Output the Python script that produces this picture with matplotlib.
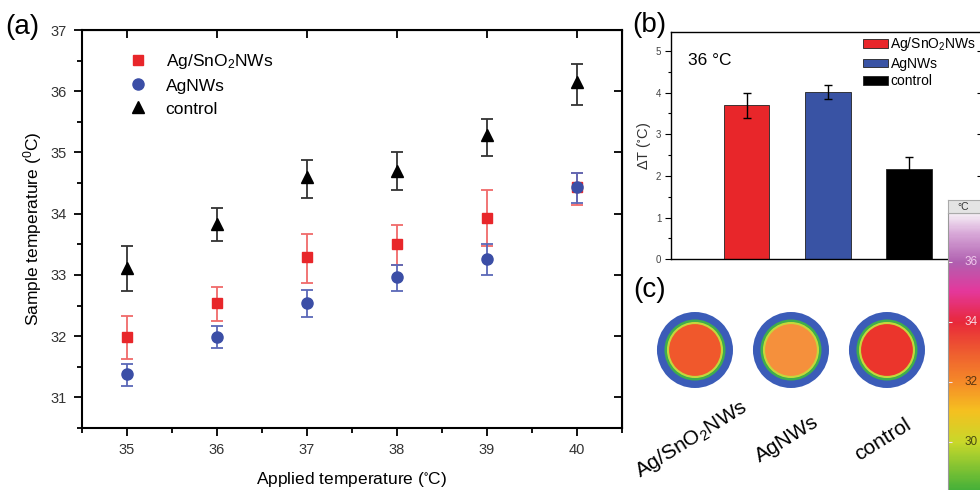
import matplotlib
matplotlib.use('Agg')
import matplotlib.pyplot as plt
import matplotlib.patches as mpatches
from matplotlib.colors import LinearSegmentedColormap, Normalize
from matplotlib.cm import ScalarMappable
from matplotlib.ticker import MultipleLocator, NullLocator

plt.rcParams['font.family'] = ['Liberation Sans', 'DejaVu Sans']
plt.rcParams['mathtext.default'] = 'regular'

# (a) sample temperature vs applied temperature
applied = [35, 36, 37, 38, 39, 40]
sno2_t = [31.98, 32.54, 33.30, 33.50, 33.93, 34.43]
sno2_lo = [31.63, 32.25, 32.87, 33.16, 33.48, 34.15]
sno2_hi = [32.33, 32.81, 33.67, 33.82, 34.38, 34.67]
ag_t = [31.38, 31.98, 32.54, 32.96, 33.26, 34.43]
ag_lo = [31.19, 31.80, 32.31, 32.73, 33.00, 34.18]
ag_hi = [31.54, 32.16, 32.76, 33.16, 33.50, 34.66]
ctrl_t = [33.11, 33.83, 34.60, 34.70, 35.28, 36.15]
ctrl_lo = [32.74, 33.55, 34.26, 34.38, 34.95, 35.77]
ctrl_hi = [33.48, 34.09, 34.87, 35.00, 35.55, 36.44]

# (b) temperature rise at 36 C
samples = ['Ag/SnO$_2$NWs', 'AgNWs', 'control']
delta_t = [3.69, 4.01, 2.17]
delta_err = [0.29, 0.17, 0.28]

# (c) thermal images: centre colour of each sample, colour scale ticks
spot_colors = ['#f0582c', '#f5903c', '#eb352c']
cbar_ticks = [30, 32, 34, 36]
cbar_label_colors = ['#4a4a10', '#5a3410', '#f8d4dc', '#f0c8ec']

red, blue, black = '#e8262a', '#3b4ea6', 'black'

fig = plt.figure(figsize=(9.8, 4.9), dpi=100)

# ---------------- (a) ----------------
ax = fig.add_axes([82 / 980, 62 / 490, 540 / 980, 398 / 490])
series = [
    (sno2_t, sno2_lo, sno2_hi, red, '#f06a6a', 's', 7, samples[0]),
    (ag_t, ag_lo, ag_hi, blue, '#5a68b8', 'o', 8, samples[1]),
    (ctrl_t, ctrl_lo, ctrl_hi, black, '#333333', '^', 8.5, samples[2]),
]
for t, lo, hi, c, ec, m, ms, lab in series:
    err = [[a - b for a, b in zip(t, lo)], [b - a for a, b in zip(t, hi)]]
    ax.errorbar(applied, t, yerr=err, fmt='none', ecolor=ec, elinewidth=1.3,
                capsize=4, capthick=1.3)
    ax.plot(applied, t, m, color=c, ms=ms, ls='none', label=lab)

ax.set_xlim(34.5, 40.5)
ax.set_ylim(30.5, 37)
ax.set_xticks(applied)
ax.set_yticks([31, 32, 33, 34, 35, 36, 37])
ax.xaxis.set_minor_locator(MultipleLocator(0.5))
ax.yaxis.set_minor_locator(MultipleLocator(0.5))
ax.tick_params(which='major', direction='out', length=6, width=1.3,
               labelsize=10.5, labelcolor='#333333', pad=5)
ax.tick_params(which='minor', direction='out', length=3.5, width=1.3)
for s in ax.spines.values():
    s.set_linewidth(1.5)
secx = ax.secondary_xaxis('top')
secx.set_xticks(applied)
secx.tick_params(direction='in', length=6, width=1.3, labeltop=False)
secx.xaxis.set_minor_locator(NullLocator())
secy = ax.secondary_yaxis('right')
secy.set_yticks([31, 32, 33, 34, 35, 36, 37])
secy.tick_params(direction='in', length=6, width=1.3, labelright=False)
secy.yaxis.set_minor_locator(NullLocator())

ax.set_xlabel('Applied temperature ($^{\\circ}$C)', fontsize=12.5, labelpad=9)
ax.set_ylabel('Sample temperature ($^0$C)', fontsize=12.5, labelpad=5)
ax.legend(loc='upper left', bbox_to_anchor=(0.055, 0.985), frameon=False,
          fontsize=12.5, handlelength=1.2, handletextpad=1.0, labelspacing=0.45)

# ---------------- (b) ----------------
axb = fig.add_axes([671 / 980, 230.7 / 490, 312 / 980, 227.6 / 490])
pos = [1, 2, 3]
bars = axb.bar(pos, delta_t, width=0.56, color=[red, '#3953a4', 'black'],
               edgecolor='#222222', linewidth=0.6, yerr=delta_err,
               error_kw=dict(ecolor='black', elinewidth=1, capsize=3, capthick=1))
axb.set_xlim(0.07, 3.91)
axb.set_ylim(0, 5.46)
axb.set_xticks([])
axb.set_yticks([0, 1, 2, 3, 4, 5])
axb.yaxis.set_minor_locator(MultipleLocator(0.5))
axb.tick_params(axis='y', which='major', direction='out', length=4, width=0.8,
                labelsize=7, labelcolor='#444444', pad=3)
axb.tick_params(axis='y', which='minor', direction='out', length=2, width=0.8)
for s in axb.spines.values():
    s.set_linewidth(1.0)
secyb = axb.secondary_yaxis('right')
secyb.set_yticks([1, 2, 3, 4, 5])
secyb.tick_params(direction='in', length=4, width=0.8, labelright=False)
secyb.yaxis.set_minor_locator(NullLocator())
axb.set_ylabel('ΔT ($^{\\circ}$C)', fontsize=10.5, labelpad=2, color='#333333')
axb.text(0.055, 0.875, '36 °C', transform=axb.transAxes, fontsize=12.5,
         va='center', ha='left')
handles = [mpatches.Patch(facecolor=b.get_facecolor(), edgecolor='#222222',
                          linewidth=0.6) for b in bars]
axb.legend(handles, samples, loc='upper left', bbox_to_anchor=(0.59, 1.02),
           frameon=False, fontsize=10, handlelength=1.8, handleheight=0.6,
           handletextpad=0.15, labelspacing=0.25, borderaxespad=0.2)

# ---------------- (c) ----------------
axc = fig.add_axes([620 / 980, 90 / 490, 324 / 980, 100 / 490])
axc.set_xlim(-0.781, 2.594)
axc.set_ylim(-0.521, 0.521)
axc.axis('off')
for i, (name, col) in enumerate(zip(samples, spot_colors)):
    axc.add_patch(mpatches.Circle((i, 0), 0.396, color='#3b5cb8', lw=0))
    axc.add_patch(mpatches.Circle((i, 0), 0.318, color='#3fae4c', lw=0))
    axc.add_patch(mpatches.Circle((i, 0), 0.292, color='#c4d83c', lw=0))
    axc.add_patch(mpatches.Circle((i, 0), 0.27, color=col, lw=0))
    axc.text(i - 0.04, -0.93, name, rotation=32, ha='center', va='center',
             fontsize=15, clip_on=False)

cmap = LinearSegmentedColormap.from_list('thermal', [
    (0.00, '#2aa83c'), (0.20, '#c8d82a'), (0.31, '#f5c020'), (0.41, '#f58a28'),
    (0.52, '#ee5a30'), (0.62, '#e8283a'), (0.73, '#e4389c'), (0.83, '#b060b0'),
    (0.93, '#d8a8d8'), (1.00, '#f6f0f6')])
norm = Normalize(vmin=28.07, vmax=37.63)
cax = fig.add_axes([948 / 980, -10 / 490, 42 / 980, 287 / 490])
cb = fig.colorbar(ScalarMappable(norm=norm, cmap=cmap), cax=cax)
cb.outline.set_edgecolor('#999999')
cax.yaxis.set_ticks_position('left')
cax.set_yticks(cbar_ticks)
cax.tick_params(direction='in', length=3, width=0.8, colors='#f4e4ec',
                labelleft=False, labelright=False)
for v, c in zip(cbar_ticks, cbar_label_colors):
    cax.text(0.4, v, str(v), transform=cax.get_yaxis_transform(), fontsize=8.5,
             color=c, va='center', ha='left')
hax = fig.add_axes([948 / 980, 277 / 490, 42 / 980, 13 / 490])
hax.set_facecolor('#e4e4e4')
hax.set_xticks([])
hax.set_yticks([])
for s in hax.spines.values():
    s.set_edgecolor('#aaaaaa')
hax.text(0.35, 0.45, '°C', fontsize=7.5, va='center', ha='center',
         color='#333333', transform=hax.transAxes)

# panel labels
fig.text(5 / 980, 1 - 27 / 490, '(a)', fontsize=20, va='center')
fig.text(632 / 980, 1 - 25 / 490, '(b)', fontsize=20, va='center')
fig.text(633 / 980, 1 - 290 / 490, '(c)', fontsize=20, va='center')

fig.savefig('out.png', dpi=100)
